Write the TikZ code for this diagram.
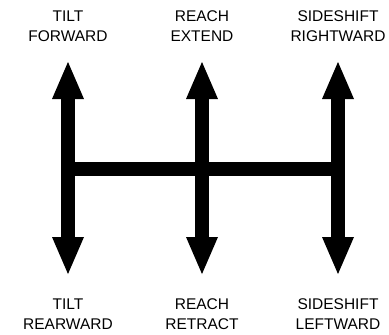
\documentclass[tikz,border=0pt]{standalone}
\usepackage{fontspec}
\setmainfont{Liberation Sans}
\usetikzlibrary{arrows.meta,positioning}
\tikzset{
  shaft/.style={line width=14pt, -{Triangle[width=32pt,length=37pt,line width=0pt]}},
  bar/.style={line width=14pt},
  lbl/.style={align=center, font=\fontsize{15.5}{20}\selectfont, inner sep=0pt}
}
\begin{document}
\begin{tikzpicture}[x=1pt,y=-1pt]
\useasboundingbox (0,0) rectangle (389,335);
\foreach \n/\x/\up/\dn in {l/68/{TILT\\FORWARD}/{TILT\\REARWARD},
  m/202/{REACH\\EXTEND}/{REACH\\RETRACT},
  r/338/{SIDESHIFT\\RIGHTWARD}/{SIDESHIFT\\LEFTWARD}} {
  \coordinate (hub-\n) at (\x,169);
  \coordinate (tip-up-\n) at (\x,62);
  \coordinate (tip-dn-\n) at (\x,274);
  \node[lbl] (lbl-up-\n) at (\x,26) {\up};
  \node[lbl] (lbl-dn-\n) at (\x,314) {\dn};
  \draw[shaft] (hub-\n) -- (tip-up-\n);
  \draw[shaft] (hub-\n) -- (tip-dn-\n);
}
\draw[bar] (hub-l) -- (hub-r);
\end{tikzpicture}
\end{document}
